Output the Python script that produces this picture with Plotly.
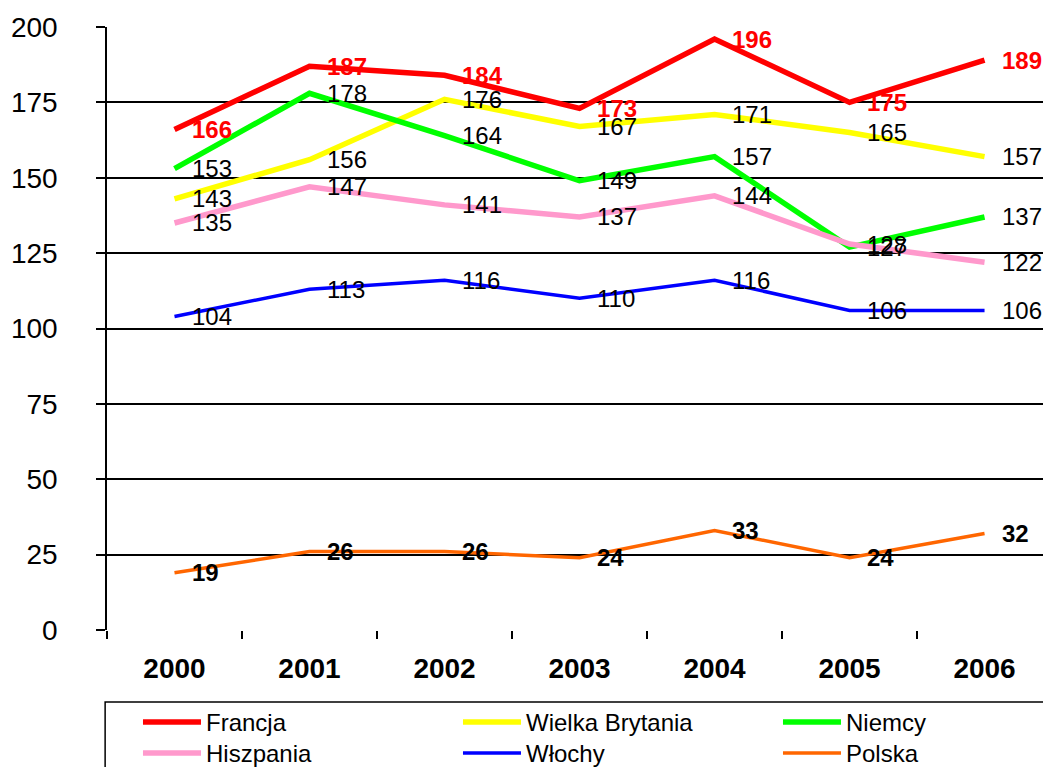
import plotly.graph_objects as go

years = ["2000", "2001", "2002", "2003", "2004", "2005", "2006"]
francja = [166, 187, 184, 173, 196, 175, 189]
wielka_brytania = [143, 156, 176, 167, 171, 165, 157]
niemcy = [153, 178, 164, 149, 157, 127, 137]
hiszpania = [135, 147, 141, 137, 144, 128, 122]
wlochy = [104, 113, 116, 110, 116, 106, 106]
polska = [19, 26, 26, 24, 33, 24, 32]

y_ticks = [0, 25, 50, 75, 100, 125, 150, 175, 200]

# name, values, line colour, line width, label colour, label bold, legend row, legend entry width
series = [
    ("Francja", francja, "#FF0000", 5.5, "#FF0000", True, "legend", 247),
    ("Wielka Brytania", wielka_brytania, "#FFFF00", 5.5, "#000000", False, "legend", 247),
    ("Niemcy", niemcy, "#00FF00", 5.5, "#000000", False, "legend", 110),
    ("Hiszpania", hiszpania, "#FF99CC", 5.5, "#000000", False, "legend2", 247),
    ("Włochy", wlochy, "#0000FF", 3.5, "#000000", False, "legend2", 247),
    ("Polska", polska, "#FF6600", 3.5, "#000000", True, "legend2", 110),
]

FONT = "Liberation Sans, Arial, sans-serif"

fig = go.Figure()
annotations = []
for name, vals, color, width, lcolor, bold, leg, lw in series:
    fig.add_trace(go.Scatter(
        x=years, y=vals, name=name, mode="lines",
        line=dict(color=color, width=width),
        legend=leg, legendwidth=lw,
    ))
    for i, yv in enumerate(vals):
        txt = f"<b>{yv}</b>" if bold else str(yv)
        annotations.append(dict(
            x=i, y=yv, xref="x", yref="y", text=txt, showarrow=False,
            xanchor="left", yanchor="middle", xshift=15,
            font=dict(family=FONT, size=24, color=lcolor),
        ))

leg_common = dict(
    orientation="h", x=0.0331, xanchor="left", yanchor="top",
    borderwidth=0, bgcolor="rgba(0,0,0,0)",
    font=dict(family=FONT, size=24, color="black"),
    itemwidth=58, traceorder="normal", entrywidthmode="pixels",
)

fig.update_layout(
    width=1043, height=767,
    margin=dict(l=107, r=0, t=27, b=137, autoexpand=False),
    paper_bgcolor="white", plot_bgcolor="white",
    font=dict(family=FONT, color="black"),
    annotations=annotations,
    showlegend=True,
    legend=dict(y=-0.1161, **leg_common),
    legend2=dict(y=-0.1675, **leg_common),
    shapes=[dict(
        type="rect", xref="paper", yref="paper",
        x0=-0.002, x1=1.05, y0=-0.1194, y1=-0.6,
        line=dict(color="black", width=1.5), fillcolor="rgba(0,0,0,0)",
        layer="above",
    )],
    xaxis=dict(
        type="category", range=[-0.5, 6.433],
        showgrid=False, zeroline=False, showline=False,
        ticks="outside", tickson="boundaries", ticklen=8, tickwidth=1.5, tickcolor="black",
        tickfont=dict(family=FONT, size=28, color="black", weight="bold"),
        ticklabelstandoff=19,
    ),
    yaxis=dict(
        range=[0, 200], tickvals=y_ticks,
        showgrid=True, gridcolor="black", gridwidth=1.5,
        zeroline=False,
        showline=True, linecolor="black", linewidth=1.5,
        ticks="outside", ticklen=9, tickwidth=1.5, tickcolor="black",
        tickfont=dict(family=FONT, size=28, color="black"),
        ticklabelstandoff=33,
    ),
)

fig.write_html("out.html")
